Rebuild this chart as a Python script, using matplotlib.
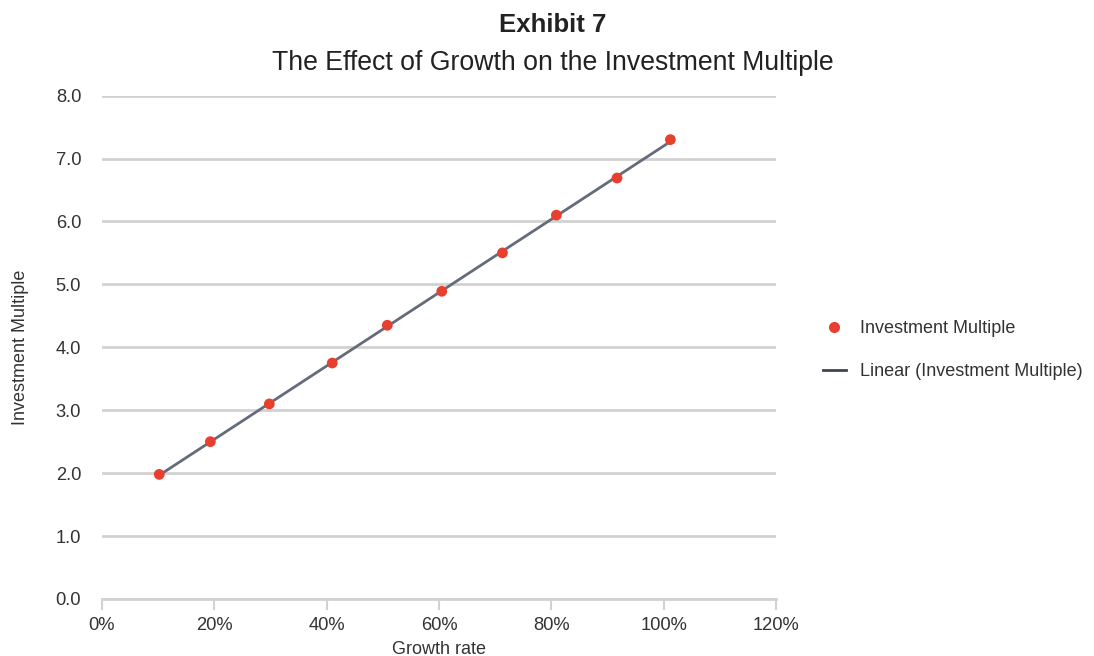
import numpy as np
import matplotlib
matplotlib.use("Agg")
import matplotlib.pyplot as plt
from matplotlib.lines import Line2D

plt.rcParams['font.family'] = ['Liberation Sans', 'DejaVu Sans']

growth_rate = [10.2, 19.3, 29.8, 41.0, 50.8, 60.5, 71.3, 80.9, 91.7, 101.2]
investment_multiple = [1.98, 2.50, 3.10, 3.75, 4.35, 4.89, 5.50, 6.10, 6.69, 7.30]
x_ticks = [0, 20, 40, 60, 80, 100, 120]
x_tick_labels = ['0%', '20%', '40%', '60%', '80%', '100%', '120%']
y_ticks = [0, 1, 2, 3, 4, 5, 6, 7, 8]
y_tick_labels = ['0.0', '1.0', '2.0', '3.0', '4.0', '5.0', '6.0', '7.0', '8.0']

fig = plt.figure(figsize=(10.94, 6.56), dpi=100)
ax = fig.add_axes([0.0932, 0.0869, 0.6161, 0.7674])

txt = '#333333'
grid_c = '#d2d2d2'

# trendline
coef = np.polyfit(growth_rate, investment_multiple, 1)
xs = np.array([growth_rate[0], growth_rate[-1]])
ax.plot(xs, np.polyval(coef, xs), color='#646b7a', lw=2, zorder=2)
ax.scatter(growth_rate, investment_multiple, s=60, color='#e8402f', zorder=3, edgecolors='none')

ax.set_xlim(0, 120)
ax.set_ylim(0, 8)
ax.set_xticks(x_ticks)
ax.set_xticklabels(x_tick_labels)
ax.set_yticks(y_ticks)
ax.set_yticklabels(y_tick_labels)
ax.yaxis.grid(True, color=grid_c, lw=2)
ax.set_axisbelow(True)
for s in ['top', 'right', 'left']:
    ax.spines[s].set_visible(False)
ax.spines['bottom'].set_color(grid_c)
ax.spines['bottom'].set_linewidth(2)
ax.tick_params(axis='x', colors=grid_c, length=8, width=1.5, labelcolor=txt, labelsize=13.2, pad=5)
ax.tick_params(axis='y', length=0, labelcolor=txt, labelsize=13.2, pad=15)

ax.set_xlabel('Growth rate', fontsize=13, color=txt, labelpad=5)
ax.set_ylabel('Investment Multiple', fontsize=13, color=txt, labelpad=19)

fig.text(0.505, 0.962, 'Exhibit 7', ha='center', va='center', fontsize=18.5, fontweight='bold', color='#222222')
fig.text(0.505, 0.904, 'The Effect of Growth on the Investment Multiple', ha='center', va='center', fontsize=19.2, color='#222222')

handles = [
    Line2D([], [], marker='o', color='none', markerfacecolor='#e8402f', markeredgecolor='none', markersize=8),
    Line2D([], [], color='#3d4650', lw=2),
]
leg = fig.legend(handles, ['Investment Multiple', 'Linear (Investment Multiple)'],
                 loc='center left', bbox_to_anchor=(0.737, 0.466), frameon=False,
                 fontsize=13, labelspacing=1.45, handlelength=1.3, handletextpad=0.75)
for t in leg.get_texts():
    t.set_color(txt)

fig.savefig('out.png', dpi=100)
